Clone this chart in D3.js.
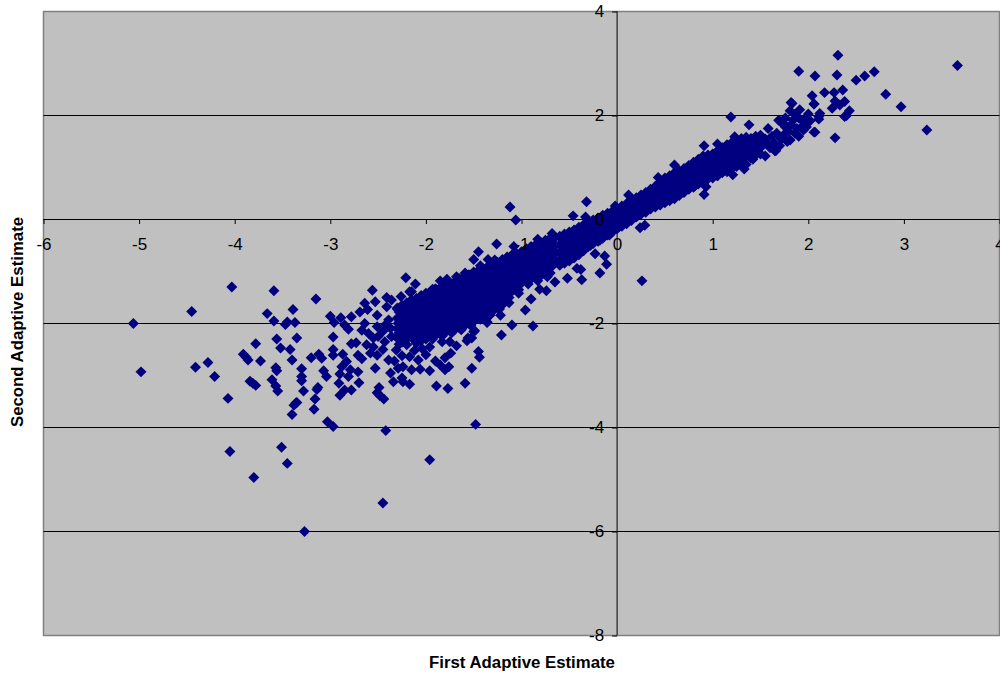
<!DOCTYPE html>
<html><head><meta charset="utf-8">
<script src="https://cdn.jsdelivr.net/npm/d3@7"></script>
<style>html,body{margin:0;padding:0;background:#fff}svg{display:block}text{font-family:"Liberation Sans",Arial,sans-serif}</style>
</head><body><svg id="c" width="1000" height="677"></svg>
<script>
const xTicks=[-6,-5,-4,-3,-2,-1,0,1,2,3,4];
const yTicks=[4,2,0,-2,-4,-6,-8];
const xTitle="First Adaptive Estimate", yTitle="Second Adaptive Estimate";
const farLeft=[[-4.03,-1.30],[-3.59,-1.37],[-4.45,-1.77],[-5.06,-2.00],[-4.98,-2.93],[-4.41,-2.84],[-4.28,-2.75],[-4.21,-3.02],[-4.07,-3.44],[-4.05,-4.46],[-3.80,-4.96],[-3.51,-4.38],[-3.45,-4.69],[-3.66,-1.81],[-3.59,-1.95],[-3.39,-1.73],[-3.47,-2.02],[-3.45,-1.97],[-3.37,-1.98],[-3.78,-2.39],[-3.56,-2.30],[-3.52,-2.47],[-3.42,-2.50],[-3.35,-2.28],[-3.91,-2.59],[-3.88,-2.65],[-3.86,-2.70],[-3.73,-2.72],[-3.40,-2.70],[-3.57,-2.85],[-3.56,-2.91],[-3.84,-3.11],[-3.81,-3.15],[-3.78,-3.19],[-3.61,-3.08],[-3.57,-3.20],[-3.55,-3.30],[-3.35,-3.52],[-3.38,-3.57],[-3.40,-3.75],[-3.30,-2.87],[-3.30,-3.02],[-3.30,-3.10],[-3.28,-3.30],[-3.36,-3.53],[-3.15,-1.53],[-3.13,-3.23],[-3.14,-3.27],[-3.16,-3.45],[-3.17,-3.65],[-3.03,-3.89],[-2.97,-3.98],[-3.20,-2.66],[-3.12,-2.59],[-3.09,-2.67],[-3.07,-2.91],[-3.04,-3.02],[-2.42,-4.06],[-1.96,-4.62],[-2.45,-5.45],[-3.27,-6.00],[-1.48,-3.94]];
const lowerCluster=[[-3.00,-1.86],[-2.96,-1.98],[-2.89,-1.89],[-2.85,-2.03],[-2.81,-2.11],[-2.78,-1.87],[-2.97,-2.26],[-2.97,-2.50],[-2.97,-2.61],[-2.87,-2.59],[-2.78,-2.39],[-2.73,-2.37],[-2.91,-3.15],[-2.90,-2.97],[-2.88,-2.83],[-2.83,-2.73],[-2.90,-3.38],[-2.85,-3.28],[-2.78,-3.28],[-2.70,-3.14],[-2.71,-2.93],[-2.81,-3.02],[-2.79,-2.89],[-2.49,-3.23],[-2.51,-3.33],[-2.48,-3.39],[-2.44,-3.45],[-2.21,-1.12],[-2.11,-1.24],[-2.56,-1.36],[-2.53,-1.58],[-2.64,-1.61],[-2.69,-1.78],[-2.41,-1.50],[-2.36,-1.55],[-2.41,-1.68],[-2.26,-1.48],[-2.17,-1.39],[-2.61,-1.73],[-2.51,-1.84],[-2.64,-2.00],[-2.67,-2.13],[-2.60,-2.19],[-2.51,-2.06],[-2.39,-1.93],[-2.37,-2.09],[-2.29,-2.00],[-2.55,-2.28],[-2.62,-2.41],[-2.71,-2.61],[-2.67,-2.68],[-2.58,-2.57],[-2.50,-2.25],[-2.43,-2.35],[-2.36,-2.25],[-2.24,-2.19],[-2.20,-2.41],[-2.31,-2.51],[-2.39,-2.70],[-2.51,-2.61],[-2.53,-2.86],[-2.37,-2.95],[-2.29,-2.86],[-2.24,-2.83],[-2.15,-2.89],[-2.34,-3.12],[-2.25,-3.05],[-2.17,-3.17],[-2.24,-3.12],[-2.08,-2.70],[-2.17,-2.64],[-2.06,-2.88],[-1.96,-2.91],[-1.89,-3.20],[-1.77,-3.25],[-1.59,-3.15],[-1.52,-2.86],[-1.80,-2.89],[-1.90,-2.72],[-1.85,-2.80],[-1.76,-2.83],[-1.80,-2.66],[-1.74,-2.57],[-1.45,-2.54],[-1.44,-2.65],[-2.04,-2.48],[-1.96,-2.45],[-1.68,-2.43],[-1.75,-2.35],[-1.83,-2.35],[-1.57,-2.33],[-1.52,-2.28],[-1.49,-2.14],[-1.36,-1.98],[-2.45,-2.15],[-2.30,-2.25],[-2.28,-2.40],[-2.12,-2.52],[-2.25,-2.62],[-2.10,-2.30],[-2.00,-2.60],[-2.45,-2.50],[-2.55,-2.45],[-2.33,-2.72],[-2.42,-2.02],[-2.22,-1.75],[-2.30,-1.70],[-2.18,-1.60]];
const bandOutliers=[[-1.12,0.24],[-1.06,-0.01],[-0.32,0.34],[-0.46,0.07],[-0.33,0.05],[0.26,-1.18],[-0.18,-1.03],[-0.11,-0.86],[-0.13,-0.70],[-0.23,-0.66],[-0.37,-1.16],[-0.52,-1.13],[-0.42,-0.94],[-0.38,-0.96],[-0.65,-1.20],[-0.74,-1.37],[-0.81,-1.34],[-0.90,-1.53],[-0.96,-1.74],[-0.88,-2.05],[-1.10,-2.03],[-1.21,-2.22],[-1.36,-1.97],[-1.22,-1.84],[-1.50,-2.16],[-1.56,-2.28],[-1.26,-0.47],[-1.08,-0.52],[-0.83,-0.38],[-0.68,-0.27],[-0.66,-0.34],[-1.45,-0.62],[-1.50,-0.77],[-1.43,-0.89],[-1.28,-0.78],[-1.35,-0.77],[-1.59,-1.03],[-1.68,-1.10],[-1.78,-1.15],[-1.85,-1.18],[-1.93,-1.34],[-2.15,-1.39]];
const upperTail=[[1.19,1.97],[1.38,1.82],[0.91,1.42],[1.05,1.45],[1.23,1.59],[0.60,1.05],[0.43,0.81],[0.12,0.47],[-0.02,0.26],[0.29,-0.11],[0.24,-0.16],[0.91,0.48],[0.93,0.63],[1.55,1.22],[1.66,1.32],[1.33,0.97],[1.21,0.86],[1.05,0.84],[1.58,1.75],[1.67,1.66],[1.69,1.91],[1.74,1.85],[1.81,1.53],[1.83,2.23],[1.81,2.09],[1.91,2.11],[2.06,2.22],[2.25,2.14],[2.28,1.57],[2.07,1.68],[2.11,1.98],[1.95,1.72],[1.98,1.95],[2.38,1.98],[3.56,2.96],[2.31,3.16],[1.90,2.85],[2.07,2.76],[2.30,2.78],[2.69,2.84],[2.59,2.76],[2.50,2.68],[2.81,2.41],[2.97,2.17],[3.24,1.72],[2.36,2.49],[2.17,2.44],[2.04,2.38],[2.27,2.44],[2.06,2.22],[1.82,2.25],[2.33,2.20],[2.38,2.27],[2.28,2.28],[2.43,2.09],[2.40,2.00],[2.12,2.04],[2.11,1.93],[2.00,2.03],[1.71,1.88],[2.06,1.68],[1.65,1.32],[1.84,1.91],[1.95,1.88],[1.88,1.75],[1.79,1.69],[1.68,1.62],[1.57,1.47],[1.72,1.55],[1.62,1.60],[1.76,1.78],[1.90,1.60],[1.50,1.40],[1.55,1.55],[1.60,1.38],[1.64,1.48],[1.70,1.42],[1.74,1.62],[1.78,1.50],[1.82,1.82],[1.86,1.66],[1.90,1.95],[1.94,1.80],[1.98,1.78],[2.02,1.90],[1.86,2.02],[1.76,1.95]];
const bandFirst=[-2.30,-2.25,-2.20,-2.15,-2.10,-2.05,-2.00,-1.95,-1.90,-1.85,-1.80,-1.75,-1.70,-1.65,-1.60,-1.55,-1.50,-1.45,-1.40,-1.35,-1.30,-1.25,-1.20,-1.15,-1.10,-1.05,-1.00,-0.95,-0.90,-0.85,-0.80,-0.75,-0.70,-0.65,-0.60,-0.55,-0.50,-0.45,-0.40,-0.35,-0.30,-0.25,-0.20,-0.15,-0.10,-0.05,0.00,0.05,0.10,0.15,0.20,0.25,0.30,0.35,0.40,0.45,0.50,0.55,0.60,0.65,0.70,0.75,0.80,0.85,0.90,0.95,1.00,1.05,1.10,1.15,1.20,1.25,1.30,1.35,1.40,1.45,1.50];
const bandSecond=[
[-1.72,-1.90,-2.10,-2.28],[-1.65,-1.84,-2.02,-2.20,-2.36],[-1.60,-1.78,-1.97,-2.15,-2.30],[-1.55,-1.74,-1.92,-2.10,-2.27],
[-1.52,-1.70,-1.88,-2.05,-2.22,-2.38],[-1.46,-1.64,-1.82,-2.00,-2.18,-2.33],[-1.42,-1.60,-1.78,-1.96,-2.14,-2.30],[-1.38,-1.56,-1.74,-1.92,-2.08,-2.25],
[-1.33,-1.52,-1.70,-1.88,-2.05,-2.22],[-1.31,-1.48,-1.66,-1.84,-2.02,-2.20],[-1.28,-1.45,-1.62,-1.80,-1.98,-2.18],[-1.24,-1.42,-1.60,-1.78,-1.96,-2.14],
[-1.20,-1.38,-1.56,-1.74,-1.92,-2.12],[-1.14,-1.32,-1.50,-1.68,-1.86,-2.08],[-1.10,-1.28,-1.46,-1.64,-1.82,-2.05],[-1.06,-1.24,-1.42,-1.60,-1.80,-2.00],
[-1.01,-1.20,-1.38,-1.56,-1.76,-1.96],[-0.98,-1.16,-1.34,-1.52,-1.70,-1.88],[-0.95,-1.12,-1.30,-1.48,-1.66,-1.84],[-0.90,-1.08,-1.26,-1.44,-1.62,-1.80],
[-0.86,-1.04,-1.22,-1.40,-1.58,-1.76],[-0.82,-1.00,-1.18,-1.36,-1.54,-1.70],[-0.77,-0.95,-1.13,-1.31,-1.49,-1.64],[-0.72,-0.90,-1.08,-1.26,-1.42],
[-0.68,-0.86,-1.04,-1.22,-1.38],[-0.66,-0.83,-1.00,-1.16,-1.30],[-0.62,-0.78,-0.94,-1.08,-1.22],[-0.56,-0.72,-0.88,-1.04,-1.18],
[-0.52,-0.68,-0.84,-1.00,-1.14],[-0.48,-0.64,-0.80,-0.96,-1.12],[-0.44,-0.60,-0.76,-0.92,-1.08],[-0.40,-0.56,-0.72,-0.88,-1.06],
[-0.36,-0.52,-0.68,-0.84,-1.03],[-0.34,-0.50,-0.66,-0.82],[-0.32,-0.48,-0.62,-0.78,-0.88],[-0.28,-0.42,-0.58,-0.72,-0.84],
[-0.24,-0.38,-0.52,-0.66,-0.80],[-0.20,-0.34,-0.48,-0.62,-0.74],[-0.15,-0.29,-0.44,-0.58,-0.68],[-0.10,-0.24,-0.38,-0.52,-0.60],
[-0.04,-0.18,-0.32,-0.44,-0.52],[-0.01,-0.14,-0.26,-0.38,-0.46],[0.03,-0.10,-0.22,-0.34,-0.42],[0.08,-0.05,-0.16,-0.28,-0.36],
[0.12,0.00,-0.12,-0.24,-0.30],[0.16,0.04,-0.06,-0.16,-0.24],[0.20,0.10,0.00,-0.10,-0.18],[0.26,0.14,0.04,-0.06,-0.13],
[0.31,0.20,0.10,-0.01,-0.08],[0.36,0.26,0.14,0.04,-0.02],[0.42,0.30,0.20,0.10,0.05],[0.47,0.36,0.26,0.16,0.10],
[0.52,0.42,0.32,0.22,0.14],[0.58,0.48,0.38,0.27,0.20],[0.64,0.54,0.44,0.32,0.24],[0.72,0.60,0.48,0.36,0.28],
[0.80,0.66,0.54,0.42,0.32],[0.84,0.70,0.58,0.46,0.36],[0.90,0.76,0.62,0.50,0.40],[0.94,0.82,0.70,0.58,0.46],
[0.98,0.86,0.74,0.62,0.52],[1.04,0.92,0.80,0.68,0.58],[1.10,0.98,0.86,0.74,0.62],[1.16,1.04,0.92,0.80,0.68],
[1.22,1.10,0.98,0.86,0.74],[1.24,1.12,1.00,0.90,0.78],[1.26,1.14,1.02,0.92,0.80],[1.32,1.20,1.08,0.96,0.84],
[1.38,1.26,1.14,1.02,0.90],[1.44,1.32,1.20,1.08,0.92],[1.48,1.36,1.24,1.12,0.98],[1.52,1.40,1.28,1.16,1.02],
[1.56,1.44,1.32,1.20,1.04],[1.58,1.46,1.34,1.22,1.06],[1.56,1.44,1.32,1.18],[1.60,1.48,1.36,1.24],
[1.62,1.50,1.38,1.26]];
const fillFirst=[-2.28,-2.18,-2.08,-1.98,-1.88,-1.78,-1.68,-1.58,-1.48,-1.38,-1.28,-1.18,-1.08,-0.98,-0.88,-0.78,-0.68,-0.58,-0.48,-0.38,-0.28,-0.18,-0.08,0.02,0.12,0.22,0.32,0.42,0.52,0.62,0.72,0.82,0.92,1.02,1.12,1.22,1.32,1.42];
const fillSecond=[
[-1.78,-1.98,-2.18],[-1.68,-1.86,-2.05,-2.22],[-1.58,-1.76,-1.94,-2.12,-2.28],[-1.50,-1.68,-1.86,-2.04,-2.20],[-1.42,-1.60,-1.78,-1.96,-2.12],
[-1.36,-1.54,-1.72,-1.90,-2.08],[-1.28,-1.46,-1.64,-1.82,-2.00],[-1.18,-1.36,-1.54,-1.72,-1.92],[-1.10,-1.28,-1.46,-1.64,-1.84],[-1.02,-1.20,-1.38,-1.56,-1.74],
[-0.94,-1.12,-1.30,-1.48,-1.64],[-0.84,-1.02,-1.20,-1.38,-1.54],[-0.76,-0.94,-1.12,-1.28],[-0.70,-0.86,-1.02,-1.16],[-0.60,-0.76,-0.92,-1.08],
[-0.52,-0.68,-0.84,-1.00],[-0.44,-0.58,-0.74,-0.90],[-0.38,-0.52,-0.66,-0.80],[-0.30,-0.44,-0.58,-0.72],[-0.22,-0.36,-0.50,-0.62],
[-0.10,-0.24,-0.38,-0.50],[-0.04,-0.18,-0.30,-0.40],[0.06,-0.08,-0.20,-0.30],[0.15,0.05,-0.04,-0.14],[0.25,0.15,0.05,0.00],
[0.38,0.28,0.18,0.08],[0.50,0.40,0.30,0.20],[0.60,0.50,0.40,0.30],[0.72,0.60,0.48,0.38],[0.88,0.74,0.60,0.48],
[0.98,0.84,0.72,0.60],[1.02,0.90,0.78,0.66],[1.14,1.02,0.90,0.78],[1.22,1.10,0.98,0.86],[1.32,1.18,1.06,0.94],
[1.46,1.30,1.16,1.04],[1.52,1.38,1.24,1.10],[1.54,1.40,1.28,1.16]];
const coreFirst=[-2.23,-2.13,-2.03,-1.93,-1.83,-1.73,-1.63,-1.53,-1.43,-1.33,-1.23,-1.13,-1.03,-0.93,-0.83,-0.73];
const coreSecond=[
[-1.72,-1.81,-1.90,-1.99,-2.08,-2.17,-2.26],
[-1.64,-1.73,-1.82,-1.91,-2.00,-2.09,-2.18,-2.27],
[-1.55,-1.64,-1.73,-1.82,-1.91,-2.00,-2.09,-2.18,-2.27],
[-1.47,-1.56,-1.65,-1.74,-1.83,-1.92,-2.01,-2.10,-2.19,-2.30],
[-1.39,-1.48,-1.57,-1.66,-1.75,-1.84,-1.93,-2.02,-2.11,-2.24],
[-1.33,-1.42,-1.51,-1.60,-1.69,-1.78,-1.87,-1.96,-2.05,-2.18],
[-1.23,-1.32,-1.41,-1.50,-1.59,-1.68,-1.77,-1.86,-1.95,-2.12],
[-1.13,-1.22,-1.31,-1.40,-1.49,-1.58,-1.67,-1.76,-1.85,-2.04],
[-1.05,-1.14,-1.23,-1.32,-1.41,-1.50,-1.59,-1.68,-1.77,-1.92],
[-0.98,-1.07,-1.16,-1.25,-1.34,-1.43,-1.52,-1.61,-1.72,-1.84],
[-0.88,-0.97,-1.06,-1.15,-1.24,-1.33,-1.42,-1.51,-1.60,-1.72],
[-0.78,-0.87,-0.96,-1.05,-1.14,-1.23,-1.32,-1.41,-1.50,-1.60],
[-0.72,-0.81,-0.90,-0.99,-1.08,-1.17,-1.26,-1.35,-1.42],
[-0.60,-0.69,-0.78,-0.87,-0.96,-1.05,-1.14,-1.24],
[-0.54,-0.63,-0.72,-0.81,-0.90,-0.99,-1.08,-1.18],
[-0.46,-0.55,-0.64,-0.73,-0.82,-0.91,-1.00,-1.10]];

const W=1000,H=677,L=43.5,R=999.5,T=11.5,B=635.5;
const x=d3.scaleLinear().domain([-6,4]).range([L,R]);
const y=d3.scaleLinear().domain([-8,4]).range([B,T]);
const svg=d3.select("#c");
svg.append("rect").attr("x",L).attr("y",T).attr("width",R-L).attr("height",B-T).attr("fill","#c0c0c0").attr("stroke","#808080").attr("stroke-width",1.5);
svg.append("g").selectAll("line").data(yTicks.filter(v=>v>-8&&v<4)).join("line")
  .attr("x1",L).attr("x2",R).attr("y1",d=>Math.round(y(d)-.5)+.5).attr("y2",d=>Math.round(y(d)-.5)+.5).attr("stroke","#000");
const xLine=svg.append("g").attr("transform",`translate(0,${y(0)-.5})`).call(d3.axisBottom(x).tickValues(xTicks).tickSize(5).tickFormat(""));
const yLine=svg.append("g").attr("transform",`translate(${x(0)},0)`).call(d3.axisLeft(y).tickValues(yTicks).tickSize(5).tickFormat(""));
[xLine,yLine].forEach(g=>{g.selectAll("line").attr("stroke","#000");g.select(".domain").remove();});
yLine.append("line").attr("x1",0).attr("x2",0).attr("y1",T).attr("y2",B).attr("stroke","#000");

const cols=(xs,ys)=>xs.flatMap((v,i)=>ys[i].map(s=>[v,s]));
const pts=[...cols(bandFirst,bandSecond),...cols(fillFirst,fillSecond),...cols(coreFirst,coreSecond),...lowerCluster,...bandOutliers,...upperTail,...farLeft];
const sym=d3.symbol(d3.symbolSquare,60);
svg.append("g").selectAll("path").data(pts).join("path").attr("d",sym)
  .attr("transform",d=>`translate(${x(d[0])},${y(d[1])}) rotate(45)`).attr("fill","#000080");

const xLab=svg.append("g").attr("transform",`translate(0,${y(0)+15})`).call(d3.axisBottom(x).tickValues(xTicks).tickSize(0).tickFormat(d=>String(d)));
const yLab=svg.append("g").attr("transform",`translate(${x(0)-10},0)`).call(d3.axisLeft(y).tickValues(yTicks).tickSize(0).tickFormat(d=>String(d)));
[xLab,yLab].forEach(g=>{g.select(".domain").remove();g.selectAll("text").attr("font-size",17).attr("fill","#000").style("font-family",'"Liberation Sans",Arial,sans-serif');});
svg.append("text").attr("x",522).attr("y",668).attr("text-anchor","middle").attr("font-size",16.8).attr("font-weight","bold").text(xTitle);
svg.append("text").attr("transform","translate(22.5,322) rotate(-90)").attr("text-anchor","middle").attr("font-size",16.8).attr("font-weight","bold").text(yTitle);
</script></body></html>
